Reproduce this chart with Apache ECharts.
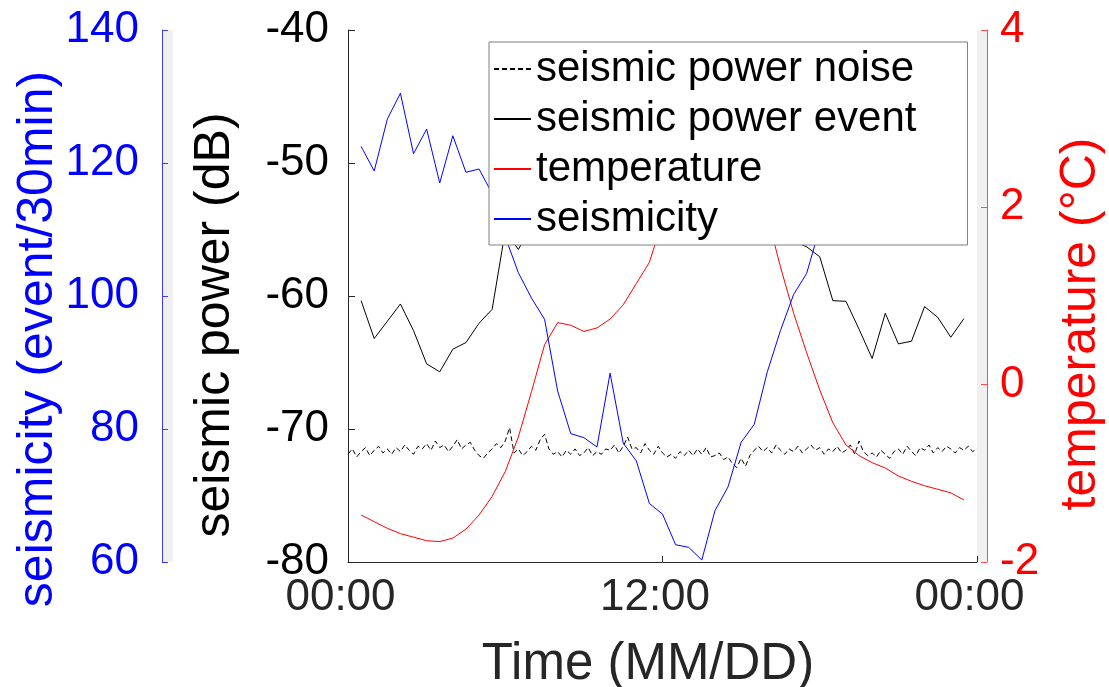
<!DOCTYPE html>
<html>
<head>
<meta charset="utf-8">
<title>seismic power, temperature and seismicity</title>
<script src="https://cdn.jsdelivr.net/npm/echarts@6/dist/echarts.min.js"></script>
<style>
  html, body { margin: 0; padding: 0; background: #fff; }
  #chart { width: 1109px; height: 687px; }
</style>
</head>
<body>
<div id="chart"></div>
<script>
const FONT = '"Liberation Sans", Arial, Helvetica, sans-serif'

const seriesNames = ['seismic power noise', 'seismic power event', 'temperature', 'seismicity']
const xTickLabels = ['00:00', '12:00', '00:00']

// half-hour bins, first one at 00:30
const BIN_START_H = 0.5
const BIN_STEP_H = 0.5

const seismicity = [
  122.5, 118.8, 126.6, 130.5, 121.4, 125.1, 117.0, 124.1, 118.6, 119.1,
  115.4, 108.9, 103.5, 99.7, 96.5, 85.7, 79.3, 78.7, 77.3, 88.4,
  77.9, 75.2, 68.8, 67.2, 62.6, 62.2, 60.3, 67.7, 71.3, 78.0,
  80.7, 88.6, 94.8, 100.2, 103.4, 110.2, 115.0, 119.0, 122.0, 120.0,
  124.0, 121.0, 118.0, 123.0, 120.0, 122.0, 119.0
]

const powerEvent = [
  -60.35, -63.2, -61.9, -60.6, -62.6, -65.1, -65.7, -64.0, -63.5, -62.05,
  -61.0, -55.1, -56.5, -54.7, -49.8, -48.6, -50.9, -47.8, -49.5, -46.9,
  -48.7, -50.8, -47.6, -49.9, -52.1, -48.8, -50.6, -52.8, -49.7, -51.9,
  -53.6, -52.7, -54.8, -55.9, -56.3, -57.05, -60.35, -60.4, -62.5, -64.7,
  -61.3, -63.6, -63.4, -60.8, -61.6, -63.1, -61.7
]

const temperature = [
  -1.47, -1.545, -1.62, -1.68, -1.72, -1.76, -1.77, -1.73, -1.63, -1.47,
  -1.26, -0.98, -0.59, -0.08, 0.45, 0.70, 0.67, 0.60, 0.64, 0.74,
  0.90, 1.14, 1.38, 1.85, 2.3, 2.7, 2.95, 3.05, 3.0, 2.8,
  2.4, 1.9, 1.33, 0.81, 0.36, -0.06, -0.43, -0.68, -0.80, -0.88,
  -0.94, -1.03, -1.09, -1.14, -1.18, -1.22, -1.30
]

// noise level every 10 min, 00:00 .. 24:00
const NOISE_STEP_H = 1 / 6
const powerNoise = [
  -71.9, -71.5, -72.1, -71.7, -71.4, -72.0,
  -71.6, -71.3, -71.8, -71.5, -71.9, -71.4,
  -71.7, -71.2, -71.6, -71.9, -71.3, -71.5,
  -71.1, -71.6, -70.9, -71.4, -71.2, -71.7,
  -71.3, -70.8, -71.5, -71.2, -71.0, -71.6,
  -72.0, -72.2, -71.8, -71.5, -71.1, -71.4,
  -70.9, -69.9, -71.8, -71.5, -72.0, -71.7,
  -71.3, -71.6, -70.8, -70.4, -71.5, -71.9,
  -71.7, -72.1, -71.6, -71.9, -71.5, -72.0,
  -71.8, -71.4, -72.0, -71.7, -71.9, -71.5,
  -71.6, -71.2, -71.8, -71.3, -70.6, -71.5,
  -71.4, -71.8, -71.1, -71.6, -71.9, -71.3,
  -71.8, -72.1, -71.9, -72.2, -71.7, -72.0,
  -71.6, -72.0, -71.5, -71.9, -71.4, -72.1,
  -72.0, -71.8, -72.3, -72.1, -72.6, -72.9,
  -72.2, -72.8, -72.0, -71.6, -71.3, -71.7,
  -71.4, -71.8, -71.2, -71.6, -71.9, -71.5,
  -71.7, -71.3, -71.8, -71.5, -71.2, -71.6,
  -71.4, -71.9, -71.5, -71.7, -71.3, -71.8,
  -71.6, -71.2, -71.9, -70.9, -71.7, -72.0,
  -71.8, -72.1, -71.6, -71.9, -72.2, -71.7,
  -71.5, -71.9, -71.3, -71.7, -72.0, -71.4,
  -71.6, -71.2, -71.8, -71.4, -71.7, -71.3,
  -71.5, -71.8, -71.4, -71.6, -71.3, -71.7,
  -71.5
]

const toPairs = (values, startH, stepH) => values.map((v, i) => [startH + i * stepH, v])

const chart = echarts.init(document.getElementById('chart'), null, { renderer: 'canvas' })

const lineSeries = (name, axis, data, color, type) => ({
  name,
  type: 'line',
  yAxisIndex: axis,
  data,
  symbol: 'none',
  showSymbol: false,
  lineStyle: { color, width: 1, type: type || 'solid' },
  itemStyle: { color }
})

const option = {
  animation: false,
  backgroundColor: '#fff',
  textStyle: { fontFamily: FONT },
  grid: { left: 348, right: 132, top: 30, bottom: 125, containLabel: false, outerBoundsMode: 'none' },
  graphic: [
    { type: 'rect', left: 162, top: 30, z: -10, shape: { width: 11, height: 532 }, style: { fill: '#f0f0f0' } },
    { type: 'rect', left: 977, top: 30, z: -10, shape: { width: 10, height: 532 }, style: { fill: '#f0f0f0' } }
  ],
  legend: {
    data: seriesNames,
    orient: 'vertical',
    left: 489,
    top: 42,
    padding: [6, 51, 5, 4],
    itemGap: 8,
    itemWidth: 37,
    itemHeight: 14,
    // line samples only, no marker dot
    itemStyle: { opacity: 0 },
    backgroundColor: '#fff',
    borderColor: '#7f7f7f',
    borderWidth: 1,
    textStyle: { fontSize: 42, color: '#000', fontFamily: FONT }
  },
  xAxis: {
    type: 'value',
    min: 0,
    max: 24,
    interval: 12,
    name: 'Time (MM/DD)',
    nameLocation: 'middle',
    nameGap: 77,
    nameMoveOverlap: false,
    nameTextStyle: { fontSize: 51, color: '#262626', padding: [0, 29, 0, 0] },
    axisLine: { show: true, onZero: false, lineStyle: { color: '#262626', width: 1 } },
    axisTick: { show: true, inside: true, length: 6, lineStyle: { color: '#262626' } },
    axisLabel: {
      fontSize: 44,
      color: '#262626',
      margin: 14,
      padding: [0, 15, 0, 0],
      formatter: (v) => xTickLabels[Math.round(v / 12)]
    },
    splitLine: { show: false }
  },
  yAxis: [
    {
      type: 'value',
      position: 'left',
      min: -80,
      max: -40,
      interval: 10,
      name: 'seismic power (dB)',
      nameLocation: 'middle',
      nameRotate: 90,
      nameGap: 108,
      nameMoveOverlap: false,
      nameTextStyle: { fontSize: 50, color: '#000', padding: [0, 58, 0, 0] },
      axisLine: { show: true, onZero: false, lineStyle: { color: '#262626', width: 1 } },
      axisTick: { show: true, inside: true, length: 7, lineStyle: { color: '#262626' } },
      axisLabel: { fontSize: 44, color: '#000', margin: 19 },
      splitLine: { show: false }
    },
    {
      type: 'value',
      position: 'left',
      offset: 186,
      min: 60,
      max: 140,
      interval: 20,
      name: 'seismicity (event/30min)',
      nameLocation: 'middle',
      nameRotate: 90,
      nameGap: 99,
      nameMoveOverlap: false,
      nameTextStyle: { fontSize: 50, color: '#0000ff', padding: [0, 86, 0, 0] },
      axisLine: { show: true, onZero: false, lineStyle: { color: '#3c3cff', width: 1 } },
      axisTick: { show: true, inside: true, length: 6, lineStyle: { color: '#3c3cff' } },
      axisLabel: { fontSize: 44, color: '#0000ff', margin: 23 },
      splitLine: { show: false }
    },
    {
      type: 'value',
      position: 'right',
      offset: 10,
      min: -2,
      max: 4,
      interval: 2,
      name: 'temperature (°C)',
      nameLocation: 'middle',
      nameRotate: 90,
      nameGap: 69,
      nameMoveOverlap: false,
      nameTextStyle: { fontSize: 50, color: '#ff0000', padding: [0, 56, 0, 0] },
      axisLine: { show: true, onZero: false, lineStyle: { color: '#ff4d4d', width: 1 } },
      axisTick: { show: true, inside: true, length: 6, lineStyle: { color: '#ff4d4d' } },
      axisLabel: { fontSize: 44, color: '#ff0000', margin: 13 },
      splitLine: { show: false }
    }
  ],
  series: [
    lineSeries(seriesNames[0], 0, toPairs(powerNoise, 0, NOISE_STEP_H), '#000', [5, 3]),
    lineSeries(seriesNames[1], 0, toPairs(powerEvent, BIN_START_H, BIN_STEP_H), '#000'),
    lineSeries(seriesNames[2], 2, toPairs(temperature, BIN_START_H, BIN_STEP_H), '#ff0000'),
    lineSeries(seriesNames[3], 1, toPairs(seismicity, BIN_START_H, BIN_STEP_H), '#0000ff')
  ]
}

chart.setOption(option)
</script>
</body>
</html>
